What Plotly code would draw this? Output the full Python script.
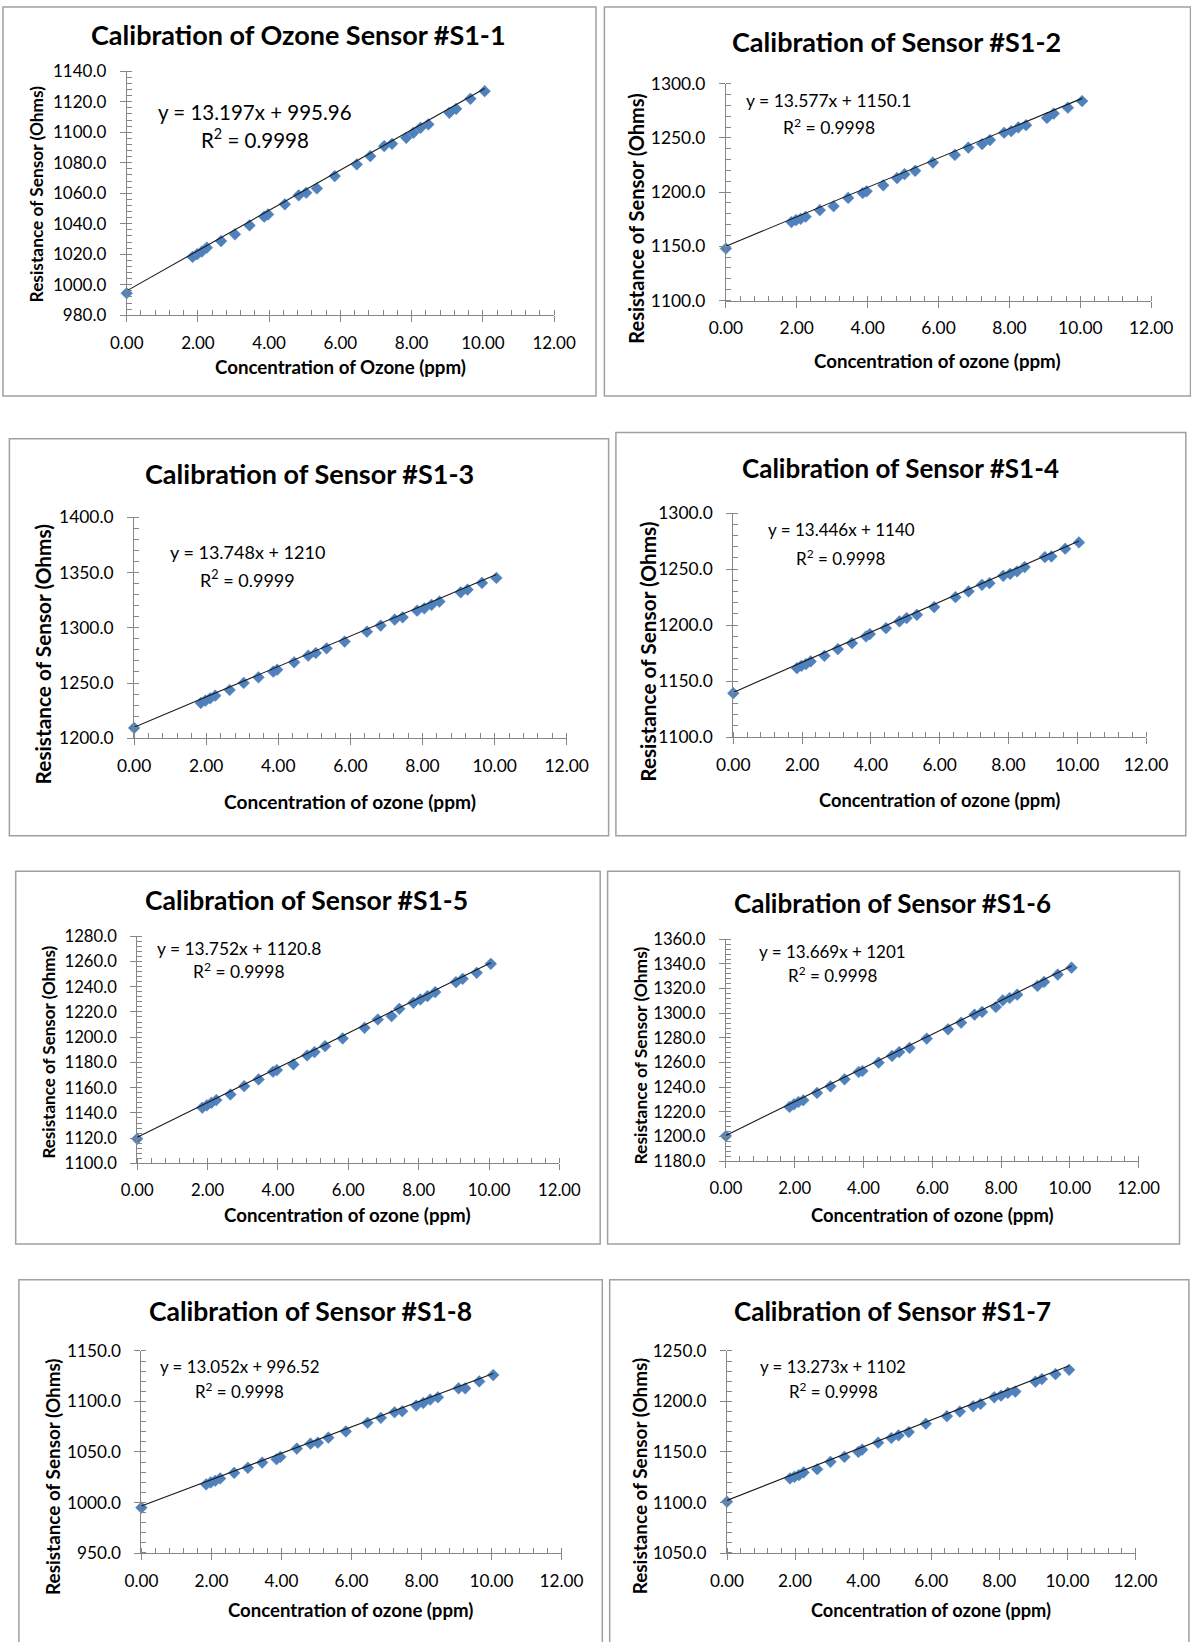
import plotly.graph_objects as go

W, H = 1191, 1642

# ---------------- data ----------------
conc_ppm = [0.00, 1.85, 1.98, 2.11, 2.25, 2.65, 3.04, 3.45, 3.86, 3.97, 4.44, 4.83, 5.04, 5.34,
            5.84, 6.46, 6.84, 7.23, 7.45, 7.85, 8.05, 8.25, 8.47, 9.06, 9.25, 9.65, 10.05]

res_s1_1 = [994.4, 1018.2, 1020.0, 1021.7, 1024.3, 1028.6, 1033.0, 1038.9, 1044.6, 1046.1, 1052.7,
            1058.6, 1060.3, 1063.1, 1071.2, 1078.9, 1084.3, 1090.9, 1092.4, 1096.3, 1099.6, 1102.9,
            1105.1, 1112.7, 1115.3, 1121.9, 1126.9]
res_s1_2 = [1148.0, 1172.4, 1174.2, 1175.4, 1177.3, 1183.4, 1187.0, 1194.7, 1199.2, 1200.8, 1206.3,
            1213.0, 1216.6, 1219.7, 1227.3, 1234.4, 1241.1, 1244.4, 1248.1, 1254.8, 1256.3, 1259.7,
            1261.8, 1268.5, 1272.5, 1278.0, 1284.1]
res_s1_3 = [1209.4, 1232.0, 1234.1, 1236.2, 1238.6, 1243.7, 1250.1, 1255.2, 1260.3, 1262.1, 1268.8,
            1274.8, 1277.2, 1281.4, 1287.5, 1296.5, 1302.0, 1307.4, 1309.5, 1315.5, 1317.6, 1320.7,
            1323.7, 1332.1, 1334.5, 1340.6, 1345.1]
res_s1_4 = [1139.3, 1161.6, 1163.7, 1165.2, 1167.6, 1172.6, 1178.6, 1183.9, 1189.9, 1192.0, 1197.3,
            1203.3, 1206.3, 1209.2, 1216.1, 1225.0, 1230.1, 1236.0, 1237.5, 1244.0, 1245.8, 1247.9,
            1251.8, 1260.7, 1261.3, 1268.2, 1273.8]
res_s1_5 = [1119.5, 1144.1, 1145.9, 1148.0, 1150.2, 1154.6, 1161.2, 1166.5, 1172.6, 1173.9, 1178.4,
            1185.5, 1188.2, 1192.9, 1199.0, 1207.4, 1214.0, 1216.7, 1222.5, 1227.2, 1229.9, 1232.5,
            1235.7, 1243.6, 1246.2, 1251.0, 1258.1]
res_s1_6 = [1200.5, 1224.1, 1226.2, 1228.1, 1229.5, 1235.4, 1240.8, 1246.5, 1252.4, 1253.2, 1260.0,
            1265.4, 1268.6, 1271.9, 1279.5, 1287.0, 1292.4, 1298.9, 1301.1, 1305.1, 1310.5, 1312.4,
            1315.1, 1322.2, 1325.4, 1331.4, 1337.0]
res_s1_8 = [994.9, 1017.9, 1019.8, 1021.5, 1023.8, 1029.3, 1034.3, 1039.5, 1042.8, 1045.1, 1053.3,
            1058.2, 1059.2, 1064.1, 1070.3, 1078.9, 1083.8, 1089.3, 1090.3, 1095.9, 1098.5, 1101.8,
            1104.1, 1113.0, 1113.0, 1119.8, 1126.1]
res_s1_7 = [1100.8, 1123.8, 1125.4, 1127.0, 1129.7, 1132.9, 1140.2, 1145.1, 1150.0, 1152.3, 1159.2,
            1163.8, 1166.4, 1169.7, 1177.9, 1185.4, 1190.0, 1195.2, 1197.5, 1204.1, 1205.7, 1208.4,
            1209.7, 1219.5, 1222.1, 1227.0, 1231.3]

panel_titles = ["Calibration of Ozone Sensor #S1-1", "Calibration of Sensor #S1-2",
                "Calibration of Sensor #S1-3", "Calibration of Sensor #S1-4",
                "Calibration of Sensor #S1-5", "Calibration of Sensor #S1-6",
                "Calibration of Sensor #S1-8", "Calibration of Sensor #S1-7"]
x_titles = ["Concentration of Ozone (ppm)"] + ["Concentration of ozone (ppm)"] * 7
y_title = "Resistance of Sensor (Ohms)"
equations = ["y = 13.197x + 995.96", "y = 13.577x + 1150.1", "y = 13.748x + 1210",
             "y = 13.446x + 1140", "y = 13.752x + 1120.8", "y = 13.669x + 1201",
             "y = 13.052x + 996.52", "y = 13.273x + 1102"]
r2_values = ["0.9998", "0.9998", "0.9999", "0.9998", "0.9998", "0.9998", "0.9998", "0.9998"]
slopes = [13.197, 13.577, 13.748, 13.446, 13.752, 13.669, 13.052, 13.273]
intercepts = [995.96, 1150.1, 1210.0, 1140.0, 1120.8, 1201.0, 996.52, 1102.0]
y_axis_min = [980, 1100, 1200, 1100, 1100, 1180, 950, 1050]
y_axis_max = [1140, 1300, 1400, 1300, 1280, 1360, 1150, 1250]
y_axis_step = [20, 50, 50, 50, 20, 20, 50, 50]
x_tick_values = [0, 2, 4, 6, 8, 10, 12]
x_axis_max = 12

series = [res_s1_1, res_s1_2, res_s1_3, res_s1_4, res_s1_5, res_s1_6, res_s1_8, res_s1_7]

# ---------------- layout spec (pixels) ----------------
# box: x0,y0,x1,y1 ; plot: x-left, x-right, y-top, y-bottom
spec = [
    dict(box=(3, 7, 596, 396), plot=(126.7, 554.1, 71.2, 315.2), title=(298.5, 34.6, 27),
         eq=(254.5, 112.0, 138.2, 20.5), xt=(340.4, 366.5, 18.7), yt=(36.7, 193.7, 17.3), tick=17),
    dict(box=(604.4, 7, 1190.5, 396), plot=(725.9, 1151.2, 83.8, 300.5), title=(896.7, 41.9, 27),
         eq=(828.6, 100.5, 126.7, 17.5), xt=(937.5, 361.3, 18.7), yt=(635.8, 218.9, 20), tick=17.4),
    dict(box=(9.4, 438.8, 608.6, 835.7), plot=(134.1, 566.7, 517.3, 738.3), title=(309.0, 473.3, 27),
         eq=(247.2, 551.9, 579.1, 18), xt=(349.9, 801.1, 19.1), yt=(42.9, 654.5, 20.8), tick=17.4),
    dict(box=(615.9, 432.5, 1185.8, 835.7), plot=(733.3, 1146.0, 513.1, 737.2), title=(900.3, 468.1, 26),
         eq=(841.2, 529.9, 557.1, 17), xt=(939.1, 800.1, 18.3), yt=(647.4, 651.4, 20.8), tick=17.4),
    dict(box=(15.7, 871.3, 600.2, 1244), plot=(137.2, 559.4, 936.2, 1163.4), title=(306.9, 899.5, 26.5),
         eq=(239.4, 948.7, 970.7, 17.4), xt=(347.3, 1214.8, 18.7), yt=(48.2, 1052.4, 17), tick=16.7),
    dict(box=(607.6, 871.3, 1179.5, 1244), plot=(725.9, 1138.6, 939.3, 1161.3), title=(892.5, 902.7, 26),
         eq=(832.8, 951.9, 974.9, 17), xt=(932.3, 1214.8, 18.4), yt=(640.9, 1055.6, 17.4), tick=16.7),
    dict(box=(18.9, 1279.7, 602.3, 1660), plot=(141.4, 561.5, 1350.9, 1553.0), title=(310.1, 1311.1, 26.5),
         eq=(239.9, 1366.6, 1390.7, 16.9), xt=(350.4, 1609.6, 18.6), yt=(52.4, 1476.5, 18.9), tick=17.2),
    dict(box=(609.7, 1279.7, 1188.9, 1660), plot=(727.0, 1135.5, 1350.9, 1553.0), title=(892.5, 1311.1, 26),
         eq=(833.3, 1366.6, 1390.7, 16.9), xt=(931.3, 1609.6, 18.2), yt=(639.8, 1476.5, 18.9), tick=17.2),
]

FONT = "Lato"
AXIS_COLOR = "#868686"
MARKER_COLOR = "#4F81BD"
EPS = 1e-4


def px(x):
    return x / W


def py(y):
    return 1 - y / H


fig = go.Figure()
shapes = []
annotations = []

for i, sp in enumerate(spec):
    n = i + 1
    xa = "x" if n == 1 else f"x{n}"
    ya = "y" if n == 1 else f"y{n}"
    xkey = "xaxis" if n == 1 else f"xaxis{n}"
    ykey = "yaxis" if n == 1 else f"yaxis{n}"
    yvals = series[i]

    # data points
    fig.add_trace(go.Scatter(
        x=conc_ppm, y=yvals, mode="markers", xaxis=xa, yaxis=ya, showlegend=False,
        marker=dict(symbol="diamond", size=9, color=MARKER_COLOR,
                    line=dict(color="#4A7EBB", width=0.5)),
        hoverinfo="x+y", cliponaxis=False))
    # linear trendline
    x_line = [min(conc_ppm), max(conc_ppm)]
    y_line = [slopes[i] * v + intercepts[i] for v in x_line]
    fig.add_trace(go.Scatter(
        x=x_line, y=y_line, mode="lines", xaxis=xa, yaxis=ya, showlegend=False,
        line=dict(color="#1a1a1a", width=1.1), hoverinfo="skip"))

    x0, x1, yt_, yb_ = sp["plot"]
    tick = sp["tick"]
    ystep = y_axis_step[i]
    yticks = list(range(y_axis_min[i], y_axis_max[i] + 1, ystep))
    # minor ticks every fifth of a major step (including major positions -> "cross" look)
    x_minor = [k * 0.4 + EPS for k in range(int(x_axis_max / 0.4) + 1)]
    y_minor = [y_axis_min[i] + k * ystep / 5 + EPS * ystep
               for k in range(int((y_axis_max[i] - y_axis_min[i]) / (ystep / 5)) + 1)]

    fig.layout[xkey] = dict(
        domain=[px(x0), px(x1)], anchor=ya, range=[0, x_axis_max], automargin=False,
        tickmode="array", tickvals=x_tick_values, tickformat=".2f", ticks="outside", ticklen=6,
        tickcolor=AXIS_COLOR, showline=True, linecolor=AXIS_COLOR, linewidth=1,
        showgrid=False, zeroline=False, ticklabelstandoff=6,
        tickfont=dict(family=FONT, size=tick, color="#000000"),
        minor=dict(tickmode="array", tickvals=x_minor, ticks="inside", ticklen=5,
                   tickcolor=AXIS_COLOR, showgrid=False),
        fixedrange=True)
    fig.layout[ykey] = dict(
        domain=[py(yb_), py(yt_)], anchor=xa, range=[y_axis_min[i], y_axis_max[i]], automargin=False,
        tickmode="array", tickvals=yticks, tickformat=".1f", ticks="outside", ticklen=6,
        tickcolor=AXIS_COLOR, showline=True, linecolor=AXIS_COLOR, linewidth=1,
        showgrid=False, zeroline=False, ticklabelstandoff=10,
        tickfont=dict(family=FONT, size=tick, color="#000000"),
        minor=dict(tickmode="array", tickvals=y_minor, ticks="inside", ticklen=5,
                   tickcolor=AXIS_COLOR, showgrid=False),
        fixedrange=True)

    # chart border
    bx0, by0, bx1, by1 = sp["box"]
    shapes.append(dict(type="rect", xref="paper", yref="paper",
                       x0=px(bx0), x1=px(bx1), y0=py(by1), y1=py(by0),
                       line=dict(color="#A0A0A0", width=1.5), fillcolor="rgba(0,0,0,0)"))

    # title
    tx, ty, ts = sp["title"]
    annotations.append(dict(text=f"<b>{panel_titles[i]}</b>", x=px(tx), y=py(ty),
                            xref="paper", yref="paper", xanchor="center", yanchor="middle",
                            showarrow=False, font=dict(family=FONT, size=ts, color="#000000")))
    # equation + R²
    ex, ey1, ey2, es = sp["eq"]
    annotations.append(dict(text=equations[i], x=px(ex), y=py(ey1), xref="paper", yref="paper",
                            xanchor="center", yanchor="middle", showarrow=False,
                            font=dict(family=FONT, size=es, color="#000000")))
    annotations.append(dict(text=f"R<sup>2</sup> = {r2_values[i]}", x=px(ex), y=py(ey2),
                            xref="paper", yref="paper", xanchor="center", yanchor="middle",
                            showarrow=False, font=dict(family=FONT, size=es, color="#000000")))
    # axis titles
    xtx, xty, xts = sp["xt"]
    annotations.append(dict(text=f"<b>{x_titles[i]}</b>", x=px(xtx), y=py(xty),
                            xref="paper", yref="paper", xanchor="center", yanchor="middle",
                            showarrow=False, font=dict(family=FONT, size=xts, color="#000000")))
    ytx, yty, yts = sp["yt"]
    annotations.append(dict(text=f"<b>{y_title}</b>", x=px(ytx), y=py(yty), textangle=-90,
                            xref="paper", yref="paper", xanchor="center", yanchor="middle",
                            showarrow=False, font=dict(family=FONT, size=yts, color="#000000")))

fig.update_layout(
    width=W, height=H, autosize=False,
    margin=dict(l=0, r=0, t=0, b=0, pad=0, autoexpand=False),
    paper_bgcolor="#FFFFFF", plot_bgcolor="#FFFFFF",
    shapes=shapes, annotations=annotations, showlegend=False,
    font=dict(family=FONT, color="#000000"),
)

fig.write_html("out.html", config={"displayModeBar": False},
               post_script="document.body.style.margin='0';document.body.style.overflow='hidden';")
